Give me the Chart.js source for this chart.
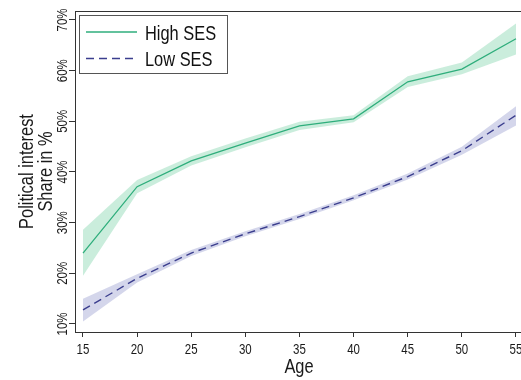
<!DOCTYPE html>
<html>
<head>
<meta charset="utf-8">
<script src="https://cdn.jsdelivr.net/npm/chart.js@4/dist/chart.umd.min.js"></script>
<style>
  html, body { margin: 0; padding: 0; background: #fff; }
  #wrap { width: 521px; height: 380px; position: relative; }
</style>
</head>
<body>
<div id="wrap"><canvas id="c" width="521" height="380"></canvas></div>
<script>
// Age groups and predicted shares (percent) with confidence bands
const ages = [15, 20, 25, 30, 35, 40, 45, 50, 55];

const highSES   = [24.0, 37.1, 42.2, 45.7, 49.1, 50.5, 57.8, 60.3, 66.3];
const highSESlo = [19.5, 35.8, 41.3, 44.9, 48.3, 49.8, 56.8, 59.3, 63.2];
const highSEShi = [28.6, 38.4, 43.1, 46.6, 49.9, 51.2, 58.9, 61.6, 69.3];

const lowSES    = [12.8, 19.0, 24.0, 27.8, 31.2, 34.9, 39.1, 44.2, 51.2];
const lowSESlo  = [10.5, 18.2, 23.4, 27.3, 30.7, 34.4, 38.5, 43.4, 49.2];
const lowSEShi  = [15.0, 19.8, 24.6, 28.3, 31.7, 35.4, 39.7, 45.0, 53.0];

const xTicks = [15, 20, 25, 30, 35, 40, 45, 50, 55];
const yTicks = [10, 20, 30, 40, 50, 60, 70];

const seriesNames = ['High SES', 'Low SES'];
const xTitle = 'Age';
const yTitle = ['Political interest', 'Share in %'];

const FONT = "'Liberation Sans', Arial, sans-serif";
const SQUEEZE = 0.82; // horizontal condensing for a narrow sans look
const GREEN = '#2fae7c';
const GREEN_BAND = 'rgba(150, 220, 185, 0.5)';
const BLUE = '#3b3e8e';
const BLUE_BAND = 'rgba(160, 165, 210, 0.45)';
const AXIS = '#333333';

const pts = arr => ages.map((a, i) => ({ x: a, y: arr[i] }));

// condensed text at (x, y); angle in radians
function narrowText(ctx, text, x, y, size, align, angle) {
  ctx.save();
  ctx.translate(x, y);
  if (angle) ctx.rotate(angle);
  ctx.scale(SQUEEZE, 1);
  ctx.font = size + 'px ' + FONT;
  ctx.textAlign = align;
  ctx.textBaseline = 'alphabetic';
  ctx.fillText(text, 0, 0);
  ctx.restore();
}

// Draws the frame top, tick labels, axis titles and the legend box
const decorations = {
  id: 'decorations',
  afterDraw(chart) {
    const ctx = chart.ctx;
    const area = chart.chartArea;
    const xs = chart.scales.x, ys = chart.scales.y;
    ctx.save();

    // top frame line
    ctx.strokeStyle = AXIS;
    ctx.lineWidth = 1;
    ctx.beginPath();
    ctx.moveTo(area.left, Math.round(area.top) + 0.5);
    ctx.lineTo(area.right, Math.round(area.top) + 0.5);
    ctx.stroke();

    ctx.fillStyle = '#1a1a1a';

    // x tick labels
    xTicks.forEach(v => {
      narrowText(ctx, String(v), xs.getPixelForValue(v), 354, 14, 'center', 0);
    });

    // y tick labels, rotated
    yTicks.forEach(v => {
      narrowText(ctx, v + '%', 67, ys.getPixelForValue(v), 14, 'center', -Math.PI / 2);
    });

    // x title
    narrowText(ctx, xTitle, 299, 373, 20, 'center', 0);

    // y title, two lines
    const yc = (area.top + area.bottom) / 2;
    narrowText(ctx, yTitle[0], 33, yc, 20, 'center', -Math.PI / 2);
    narrowText(ctx, yTitle[1], 51.5, yc, 20, 'center', -Math.PI / 2);

    // legend
    ctx.strokeStyle = '#555555';
    ctx.lineWidth = 1;
    ctx.strokeRect(79.5, 15.5, 148, 58);

    ctx.lineWidth = 1.3;
    ctx.strokeStyle = GREEN;
    ctx.setLineDash([]);
    ctx.beginPath();
    ctx.moveTo(86, 32); ctx.lineTo(137, 32);
    ctx.stroke();

    ctx.strokeStyle = BLUE;
    ctx.setLineDash([8, 5]);
    ctx.beginPath();
    ctx.moveTo(86, 58.5); ctx.lineTo(137, 58.5);
    ctx.stroke();
    ctx.setLineDash([]);

    ctx.fillStyle = '#111';
    narrowText(ctx, seriesNames[0], 145, 39.5, 20, 'left', 0);
    narrowText(ctx, seriesNames[1], 145, 66, 20, 'left', 0);

    ctx.restore();
  }
};

new Chart(document.getElementById('c'), {
  type: 'line',
  data: {
    datasets: [
      { label: seriesNames[0], data: pts(highSES), borderColor: GREEN, borderWidth: 1.3,
        pointRadius: 0, fill: false, tension: 0 },
      { label: seriesNames[1], data: pts(lowSES), borderColor: BLUE, borderWidth: 1.4,
        borderDash: [8, 5], pointRadius: 0, fill: false, tension: 0 },
      { label: 'high upper', data: pts(highSEShi), borderWidth: 0, borderColor: 'rgba(0,0,0,0)',
        backgroundColor: GREEN_BAND, pointRadius: 0, fill: '+1', tension: 0 },
      { label: 'high lower', data: pts(highSESlo), borderWidth: 0, borderColor: 'rgba(0,0,0,0)',
        pointRadius: 0, fill: false, tension: 0 },
      { label: 'low upper', data: pts(lowSEShi), borderWidth: 0, borderColor: 'rgba(0,0,0,0)',
        backgroundColor: BLUE_BAND, pointRadius: 0, fill: '+1', tension: 0 },
      { label: 'low lower', data: pts(lowSESlo), borderWidth: 0, borderColor: 'rgba(0,0,0,0)',
        pointRadius: 0, fill: false, tension: 0 }
    ]
  },
  options: {
    responsive: false,
    animation: false,
    devicePixelRatio: 1,
    layout: { padding: { top: 11, right: 0, left: 0, bottom: 0 } },
    plugins: {
      legend: { display: false },
      tooltip: { enabled: false },
      filler: { propagate: false, drawTime: 'beforeDatasetsDraw' }
    },
    scales: {
      x: {
        type: 'linear',
        min: 14.261,
        max: 55.462,
        afterBuildTicks: s => { s.ticks = xTicks.map(v => ({ value: v })); },
        afterFit: s => { s.height = 48; },
        ticks: { display: false },
        grid: { drawOnChartArea: false, drawTicks: true, tickLength: 5, color: AXIS },
        border: { display: true, color: AXIS, width: 1 }
      },
      y: {
        type: 'linear',
        min: 8.421,
        max: 71.776,
        afterBuildTicks: s => { s.ticks = yTicks.map(v => ({ value: v })); },
        afterFit: s => { s.width = 75; },
        ticks: { display: false },
        grid: { drawOnChartArea: false, drawTicks: true, tickLength: 6, color: AXIS },
        border: { display: true, color: AXIS, width: 1 }
      }
    }
  },
  plugins: [decorations]
});
</script>
</body>
</html>
